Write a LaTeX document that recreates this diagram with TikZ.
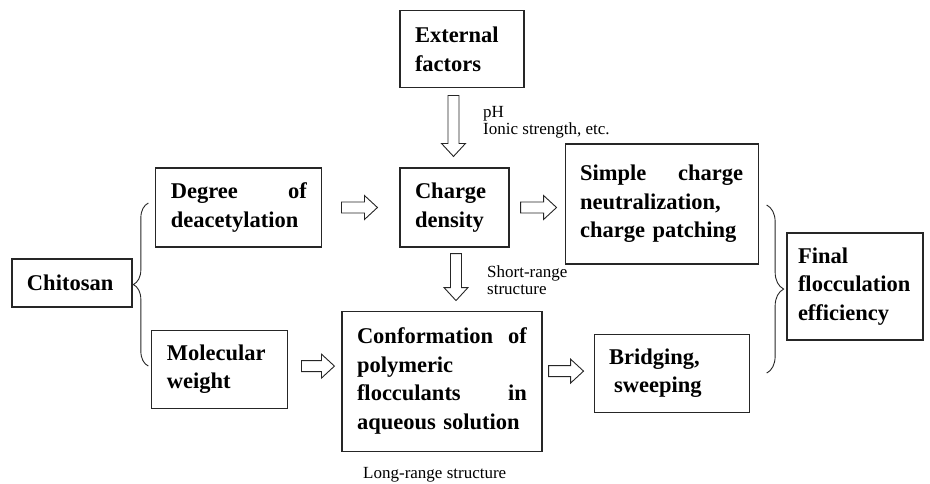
\documentclass[tikz,border=0pt]{standalone}
\usepackage{fontspec}
\setmainfont{Liberation Serif}
\usepackage{tikz}
\usetikzlibrary{positioning, calc, decorations.pathreplacing}
\tikzset{
x=1pt, y=-1pt, % one unit is one pixel, y grows downwards
box/.style={draw=black!85, line width=1.1pt, inner xsep=15pt, inner ysep=0pt, align=left, font=\fontsize{22.5}{28.5}\selectfont\bfseries}, % the bold boxes
note/.style={inner sep=0pt, align=left, font=\fontsize{17}{17}\selectfont}, % the small remarks
fat/.style={draw=black!85, line width=0.9pt, fill=white}, % the hollow arrows
curly/.style={draw=black!85, line width=0.9pt, decorate, decoration={brace, amplitude=#1}}, % the braces
}
\newcommand{\fatarrow}[2]{% hollow arrow from #1 to #2
  \coordinate (fs) at #1;
  \coordinate (ft) at #2;
  \coordinate (fb) at ($(ft)!13pt!(fs)$);
  \draw[fat] ($(fs)!5.5pt!90:(ft)$) -- ($(fb)!5.5pt!90:(ft)$) -- ($(fb)!12pt!90:(ft)$) -- (ft)
    -- ($(fb)!12pt!-90:(ft)$) -- ($(fb)!5.5pt!-90:(ft)$) -- ($(fs)!5.5pt!-90:(ft)$) -- cycle;
}

\begin{document}
\begin{tikzpicture}
                \useasboundingbox (0,0) rectangle (930,483);
                \node[box, text width=79pt, minimum height=79pt] (chg) at (454.5,207.5) {Charge\\density};
                \node[box, text width=94pt, minimum height=77pt, above=79pt of chg, xshift=7.5pt] (ext) {External\\factors};
                \node[box, text width=136pt, minimum height=79pt, left=77pt of chg] (deg) {Degree\hfill of\\deacetylation};
                \node[box, text width=163pt, minimum height=120pt, right=55pt of chg, yshift=3.5pt] (simp) {Simple\hfill charge\\neutralization,\\charge patching};
                \node[box, text width=170pt, minimum height=140pt, below=63pt of chg, xshift=-12.5pt] (conf) {Conformation\hfill of\\polymeric\\flocculants\hfill in\\aqueous solution};
                \node[box, text width=106pt, minimum height=78pt, left=53pt of conf, yshift=12pt] (mol) {Molecular\\weight};
                \node[box, text width=125pt, minimum height=78pt, right=51pt of conf, yshift=8pt] (bridg) {Bridging,\\\hspace*{5pt}sweeping};
                \node[box, text width=90pt, minimum height=48pt] (chit) at (72,283) {Chitosan};
                \node[box, inner xsep=11pt, text width=114pt, minimum height=107pt] (final) at (855,286.5) {Final\\flocculation\\efficiency};
                \node[note, anchor=north west] (ph) at (483,106) {pH\\Ionic strength, etc.};
                \node[note, anchor=north west] (short) at (487,265) {Short-range\\structure};
                \node[note, anchor=base west] (long) at (363,478) {Long-range structure};
                \fatarrow{($(ext.south -| chg.north)+(-1,7)$)}{($(chg.north)+(-1,-11)$)}
                \fatarrow{($(deg.east)+(19,0)$)}{($(chg.west)+(-22,0)$)}
                \fatarrow{($(chg.east)+(11,0)$)}{($(simp.west |- chg.east)+(-8,0)$)}
                \fatarrow{($(chg.south)+(1.5,6)$)}{($(conf.north -| chg.south)+(1.5,-10)$)}
                \fatarrow{($(mol.east)+(13,-3)$)}{($(conf.west |- mol.east)+(-7,-3)$)}
                \fatarrow{($(conf.east |- bridg.west)+(6,-2)$)}{($(bridg.west)+(-10,-2)$)}
                \coordinate (lbtop) at ($(deg.west)+(-7,-4.5)$);
                \coordinate (lbbot) at ($(mol.west)+(-3,-3)$);
                \coordinate (rbtop) at ($(simp.east)+(8,1)$);
                \coordinate (rbbot) at ($(bridg.east)+(17,0)$);
                \draw[curly=15pt] (lbbot) -- (lbtop);
                \draw[curly=17pt] (rbtop) -- (rbbot);
\end{tikzpicture}
\end{document}
